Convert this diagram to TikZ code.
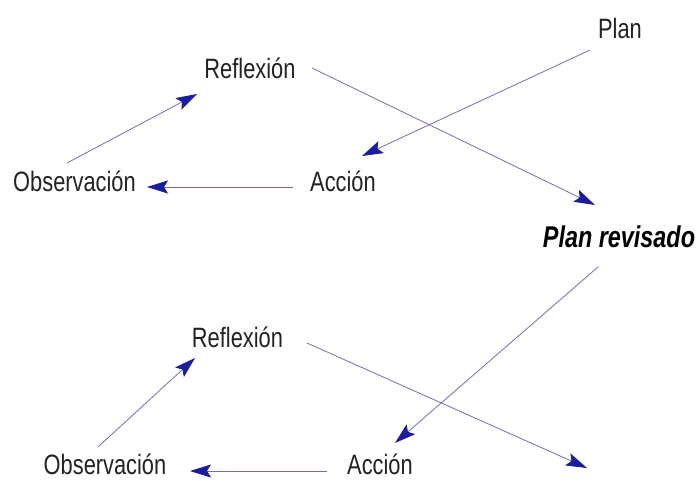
\documentclass[tikz,border=0pt]{standalone}
\usepackage{fontspec}
\setmainfont{Liberation Sans}[FakeStretch=0.78]
\usetikzlibrary{arrows.meta,calc}
\definecolor{linkblue}{RGB}{112,112,172}
\definecolor{headblue}{RGB}{28,28,158}
\definecolor{labelgray}{RGB}{34,34,34}
\tikzset{
  label/.style={inner sep=0pt, anchor=base, text=labelgray,
    font=\fontsize{28}{30}\selectfont},
  revised/.style={label, font=\fontsize{30}{32}\selectfont\bfseries\itshape, text=black},
  link/.style={draw=linkblue, line width=0.8pt,
    -{Stealth[length=21pt,width=13pt,inset=4pt,color=headblue]}}
}
\begin{document}
\begin{tikzpicture}[x=1pt,y=-1pt]
\useasboundingbox (0,0) rectangle (699,480);

% first cycle
\node[label] (plan)  at (620,38)   {Plan};
\node[label] (refl1) at (250,78)   {Reflexión};
\node[label] (obs1)  at (74.5,191) {Observación};
\node[label] (acc1)  at (343,191)  {Acción};
\node[revised] (rev) at (619,247)  {Plan revisado};

% second cycle
\node[label] (refl2) at (237.5,347) {Reflexión};
\node[label] (obs2)  at (105,474)   {Observación};
\node[label] (acc2)  at (380,474)   {Acción};
\coordinate (next) at (587,468);

% connectors of the first cycle
\draw[link] ($(plan.base)+(-30,12)$)  -- ($(acc1.base)+(19,-35)$);
\draw[link] ($(acc1.base)+(-50,-4)$)  -- ($(obs1.base)+(72.5,-4)$);
\draw[link] ($(obs1.base)+(-7.5,-28)$) -- ($(refl1.base)+(-53,16)$);
\draw[link] ($(refl1.base)+(62,-10)$) -- ($(rev.base)+(-24,-42)$);

% connectors of the second cycle
\draw[link] ($(rev.base)+(-21,20)$)    -- ($(acc2.base)+(15,-31)$);
\draw[link] ($(acc2.base)+(-53,-3)$)   -- ($(obs2.base)+(85,-3)$);
\draw[link] ($(obs2.base)+(-7,-27)$)   -- ($(refl2.base)+(-42.5,11)$);
\draw[link] ($(refl2.base)+(69.5,-4)$) -- (next);
\end{tikzpicture}
\end{document}
